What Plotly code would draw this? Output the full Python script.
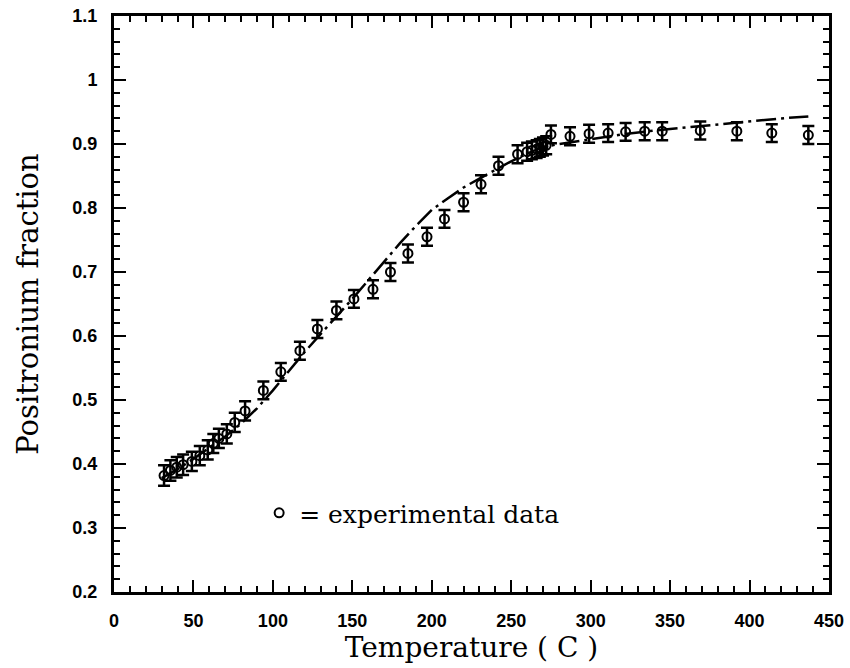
import plotly.graph_objects as go

temps = [31.5, 35.5, 39.5, 43.5, 49, 54, 59, 62.5, 66, 71, 76, 82.5, 94, 105,
         117, 128, 140, 151, 163, 174, 185, 197, 208, 220, 231, 242, 254, 260,
         263, 266, 268, 270, 272, 275, 287, 299, 311, 322, 334, 345, 369, 392,
         414, 437]
fraction = [0.382, 0.390, 0.395, 0.399, 0.404, 0.413, 0.422, 0.432, 0.440,
            0.447, 0.465, 0.483, 0.515, 0.544, 0.577, 0.611, 0.640, 0.658,
            0.673, 0.700, 0.729, 0.755, 0.783, 0.809, 0.837, 0.866, 0.884,
            0.888, 0.890, 0.892, 0.894, 0.896, 0.898, 0.915, 0.912, 0.916,
            0.917, 0.919, 0.920, 0.920, 0.921, 0.920, 0.917, 0.914]
errors = [0.016, 0.016, 0.016, 0.016, 0.015, 0.015, 0.015, 0.015, 0.015,
          0.015, 0.015, 0.015, 0.014, 0.014, 0.014, 0.014, 0.014, 0.014,
          0.014, 0.014, 0.014, 0.014, 0.014, 0.014, 0.014, 0.014, 0.014,
          0.014, 0.014, 0.014, 0.014, 0.014, 0.014, 0.014, 0.014, 0.014,
          0.014, 0.014, 0.014, 0.014, 0.014, 0.014, 0.014, 0.014]

# Model curve (dash-dot)
curve_t = [30, 40, 50, 60, 70, 80, 90, 100, 110, 120, 130, 140, 150, 160, 170,
           180, 190, 200, 210, 220, 230, 240, 250, 260, 270, 280, 290, 300,
           320, 340, 360, 380, 400, 420, 437]
curve_v = [0.378, 0.392, 0.408, 0.425, 0.443, 0.463, 0.487, 0.515, 0.545,
           0.575, 0.603, 0.630, 0.658, 0.687, 0.716, 0.745, 0.772, 0.797,
           0.815, 0.832, 0.846, 0.860, 0.873, 0.885, 0.895, 0.900, 0.904,
           0.908, 0.915, 0.921, 0.926, 0.931, 0.935, 0.940, 0.943]

x_ticks = [0, 50, 100, 150, 200, 250, 300, 350, 400, 450]
y_ticks = [0.2, 0.3, 0.4, 0.5, 0.6, 0.7, 0.8, 0.9, 1.0, 1.1]
y_tick_text = ["0.2", "0.3", "0.4", "0.5", "0.6", "0.7", "0.8", "0.9", "1", "1.1"]

fig = go.Figure()
fig.add_trace(go.Scatter(
    x=curve_t, y=curve_v, mode="lines", showlegend=False,
    line=dict(color="black", width=2.5, dash="20px,5px,3px,5px"),
))
fig.add_trace(go.Scatter(
    x=temps, y=fraction, mode="markers", name="= experimental data",
    marker=dict(symbol="circle-open", size=9, color="black",
                line=dict(color="black", width=2)),
    error_y=dict(type="data", array=errors, color="black", thickness=2.5, width=6),
))

tickfont = dict(family="Liberation Sans", size=18, color="black", weight="bold")

fig.update_layout(
    width=850, height=668,
    margin=dict(l=114, r=21, t=16, b=76),
    paper_bgcolor="white", plot_bgcolor="white",
    legend=dict(x=0.203, y=0.137, xanchor="left", yanchor="middle",
                font=dict(family="DejaVu Serif", size=25, color="black"),
                bgcolor="rgba(0,0,0,0)", borderwidth=0),
    xaxis=dict(
        range=[0, 450], tickvals=x_ticks, showgrid=False, zeroline=False,
        automargin=False,
        showline=True, linecolor="black", linewidth=3, mirror="allticks",
        ticks="inside", ticklen=12, tickwidth=2, tickcolor="black",
        minor=dict(dtick=10, ticks="inside", ticklen=6, tickwidth=2, tickcolor="black", showgrid=False),
        tickfont=tickfont, ticklabelstandoff=10,
        title=dict(text="Temperature ( C )",
                   font=dict(family="DejaVu Serif", size=28, color="black"), standoff=8),
    ),
    yaxis=dict(
        range=[0.2, 1.1], tickvals=y_ticks, ticktext=y_tick_text,
        showgrid=False, zeroline=False, automargin=False,
        showline=True, linecolor="black", linewidth=3, mirror="allticks",
        ticks="inside", ticklen=12, tickwidth=2, tickcolor="black",
        minor=dict(dtick=0.02, ticks="inside", ticklen=6, tickwidth=2, tickcolor="black", showgrid=False),
        tickfont=tickfont, ticklabelstandoff=10,
        title=dict(text="Positronium fraction",
                   font=dict(family="DejaVu Serif", size=29, color="black"), standoff=26),
    ),
)

fig.write_html("out.html")
